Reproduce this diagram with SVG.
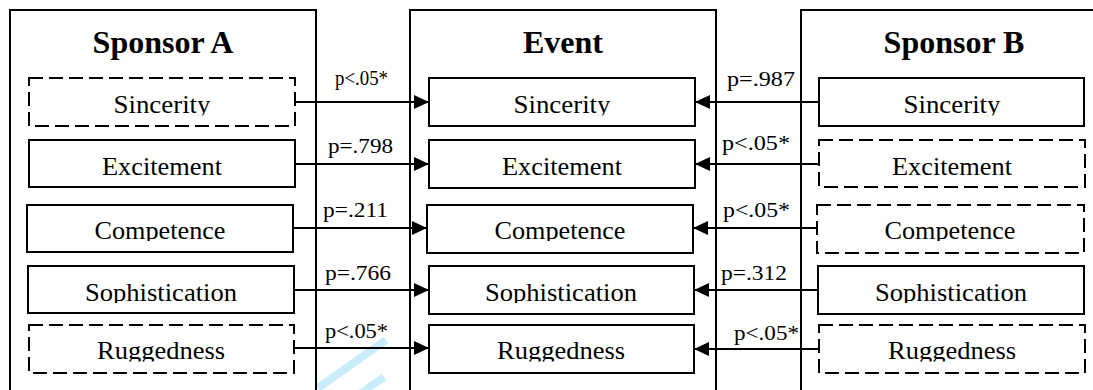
<svg xmlns="http://www.w3.org/2000/svg" width="1093" height="390" viewBox="0 0 1093 390">
<style>
.outer{fill:none;stroke:#000;stroke-width:2}
.box{fill:#fff;stroke:#000;stroke-width:2}
.dash{fill:#fff;stroke:#000;stroke-width:2;stroke-dasharray:14 6}
.title{font-family:"Liberation Serif","Times New Roman",serif;font-size:32px;font-weight:bold;text-anchor:middle;fill:#000}
.lbl{font-family:"Liberation Serif","Times New Roman",serif;font-size:25.5px;text-anchor:middle;fill:#000}
.p{font-family:"Liberation Serif","Times New Roman",serif;font-size:21px;fill:#000}
.conn{stroke:#000;stroke-width:2;fill:none;marker-end:url(#ah)}
.wm{stroke:#c9ecfb;stroke-width:8;fill:none}
</style>
<defs>
<marker id="ah" markerUnits="userSpaceOnUse" markerWidth="16" markerHeight="14" refX="15" refY="7" orient="auto">
<path d="M0,0 L15,7 L0,14 z" fill="#000"/>
</marker>
<clipPath id="r1"><rect x="0" y="70" width="1093" height="45.5"/></clipPath>
<clipPath id="r2"><rect x="0" y="130" width="1093" height="47.5"/></clipPath>
<clipPath id="r3"><rect x="0" y="195" width="1093" height="46"/></clipPath>
<clipPath id="r4"><rect x="0" y="256" width="1093" height="47"/></clipPath>
<clipPath id="r5"><rect x="0" y="315" width="1093" height="46.5"/></clipPath>
</defs>
<rect width="1093" height="390" fill="#fff"/>
<g id="watermark">
<line class="wm" x1="318" y1="388" x2="386" y2="340"/>
<line class="wm" x1="360" y1="394" x2="384" y2="377"/>
</g>
<g id="sponsorA">
<rect class="outer" x="10" y="10" width="306" height="400"/>
<text class="title" x="163" y="53">Sponsor A</text>
</g>
<g id="event">
<rect class="outer" x="410" y="10" width="306" height="400"/>
<text class="title" x="563" y="53">Event</text>
</g>
<g id="sponsorB">
<rect class="outer" x="801" y="10" width="306" height="400"/>
<text class="title" x="954" y="53">Sponsor B</text>
</g>
<g id="connectors">
<line class="conn" x1="295" y1="102" x2="429" y2="102"/>
<line class="conn" x1="295" y1="164" x2="429" y2="164"/>
<line class="conn" x1="293" y1="228" x2="427" y2="228"/>
<line class="conn" x1="294" y1="290" x2="429" y2="290"/>
<line class="conn" x1="294" y1="348" x2="429" y2="348"/>
<line class="conn" x1="819" y1="102" x2="695" y2="102"/>
<line class="conn" x1="819" y1="164" x2="695" y2="164"/>
<line class="conn" x1="817" y1="228" x2="693" y2="228"/>
<line class="conn" x1="818" y1="290" x2="694" y2="290"/>
<line class="conn" x1="819" y1="349" x2="694" y2="349"/>
<text class="p" x="335" y="85" textLength="53" lengthAdjust="spacingAndGlyphs">p&lt;.05*</text>
<text class="p" x="328" y="153" textLength="65" lengthAdjust="spacingAndGlyphs">p=.798</text>
<text class="p" x="323" y="217" textLength="65" lengthAdjust="spacingAndGlyphs">p=.211</text>
<text class="p" x="325" y="280" textLength="66" lengthAdjust="spacingAndGlyphs">p=.766</text>
<text class="p" x="325" y="338" textLength="63" lengthAdjust="spacingAndGlyphs">p&lt;.05*</text>
<text class="p" x="727" y="86" textLength="68" lengthAdjust="spacingAndGlyphs">p=.987</text>
<text class="p" x="722" y="150" textLength="68" lengthAdjust="spacingAndGlyphs">p&lt;.05*</text>
<text class="p" x="723" y="217" textLength="67" lengthAdjust="spacingAndGlyphs">p&lt;.05*</text>
<text class="p" x="721" y="280" textLength="66" lengthAdjust="spacingAndGlyphs">p=.312</text>
<text class="p" x="734" y="340" textLength="65" lengthAdjust="spacingAndGlyphs">p&lt;.05*</text>
</g>
<g id="A-sincerity"><rect class="dash" x="29" y="78" width="266" height="48"/><text class="lbl" x="162" y="113" clip-path="url(#r1)" textLength="97" lengthAdjust="spacingAndGlyphs">Sincerity</text></g>
<g id="A-excitement"><rect class="box" x="29" y="140" width="266" height="47"/><text class="lbl" x="162" y="175" clip-path="url(#r2)" textLength="120" lengthAdjust="spacingAndGlyphs">Excitement</text></g>
<g id="A-competence"><rect class="box" x="27" y="205" width="266" height="47"/><text class="lbl" x="160" y="239" clip-path="url(#r3)" textLength="131" lengthAdjust="spacingAndGlyphs">Competence</text></g>
<g id="A-sophistication"><rect class="box" x="28" y="266" width="266" height="47"/><text class="lbl" x="161" y="300.5" clip-path="url(#r4)" textLength="152" lengthAdjust="spacingAndGlyphs">Sophistication</text></g>
<g id="A-ruggedness"><rect class="dash" x="29" y="325" width="265" height="48"/><text class="lbl" x="161" y="359" clip-path="url(#r5)" textLength="128" lengthAdjust="spacingAndGlyphs">Ruggedness</text></g>
<g id="E-sincerity"><rect class="box" x="429" y="78" width="266" height="48"/><text class="lbl" x="562" y="113" clip-path="url(#r1)" textLength="97" lengthAdjust="spacingAndGlyphs">Sincerity</text></g>
<g id="E-excitement"><rect class="box" x="429" y="140" width="266" height="48"/><text class="lbl" x="562" y="175" clip-path="url(#r2)" textLength="120" lengthAdjust="spacingAndGlyphs">Excitement</text></g>
<g id="E-competence"><rect class="box" x="427" y="205" width="266" height="48"/><text class="lbl" x="560" y="239" clip-path="url(#r3)" textLength="131" lengthAdjust="spacingAndGlyphs">Competence</text></g>
<g id="E-sophistication"><rect class="box" x="429" y="266" width="265" height="48"/><text class="lbl" x="561" y="300.5" clip-path="url(#r4)" textLength="152" lengthAdjust="spacingAndGlyphs">Sophistication</text></g>
<g id="E-ruggedness"><rect class="box" x="429" y="325" width="265" height="48"/><text class="lbl" x="561" y="359" clip-path="url(#r5)" textLength="128" lengthAdjust="spacingAndGlyphs">Ruggedness</text></g>
<g id="B-sincerity"><rect class="box" x="819" y="78" width="265" height="48"/><text class="lbl" x="952" y="113" clip-path="url(#r1)" textLength="97" lengthAdjust="spacingAndGlyphs">Sincerity</text></g>
<g id="B-excitement"><rect class="dash" x="819" y="140" width="266" height="47"/><text class="lbl" x="952" y="175" clip-path="url(#r2)" textLength="120" lengthAdjust="spacingAndGlyphs">Excitement</text></g>
<g id="B-competence"><rect class="dash" x="817" y="205" width="267" height="48"/><text class="lbl" x="950" y="239" clip-path="url(#r3)" textLength="131" lengthAdjust="spacingAndGlyphs">Competence</text></g>
<g id="B-sophistication"><rect class="box" x="818" y="266" width="266" height="48"/><text class="lbl" x="951" y="300.5" clip-path="url(#r4)" textLength="152" lengthAdjust="spacingAndGlyphs">Sophistication</text></g>
<g id="B-ruggedness"><rect class="dash" x="819" y="325" width="266" height="48"/><text class="lbl" x="952" y="359" clip-path="url(#r5)" textLength="128" lengthAdjust="spacingAndGlyphs">Ruggedness</text></g>
</svg>
